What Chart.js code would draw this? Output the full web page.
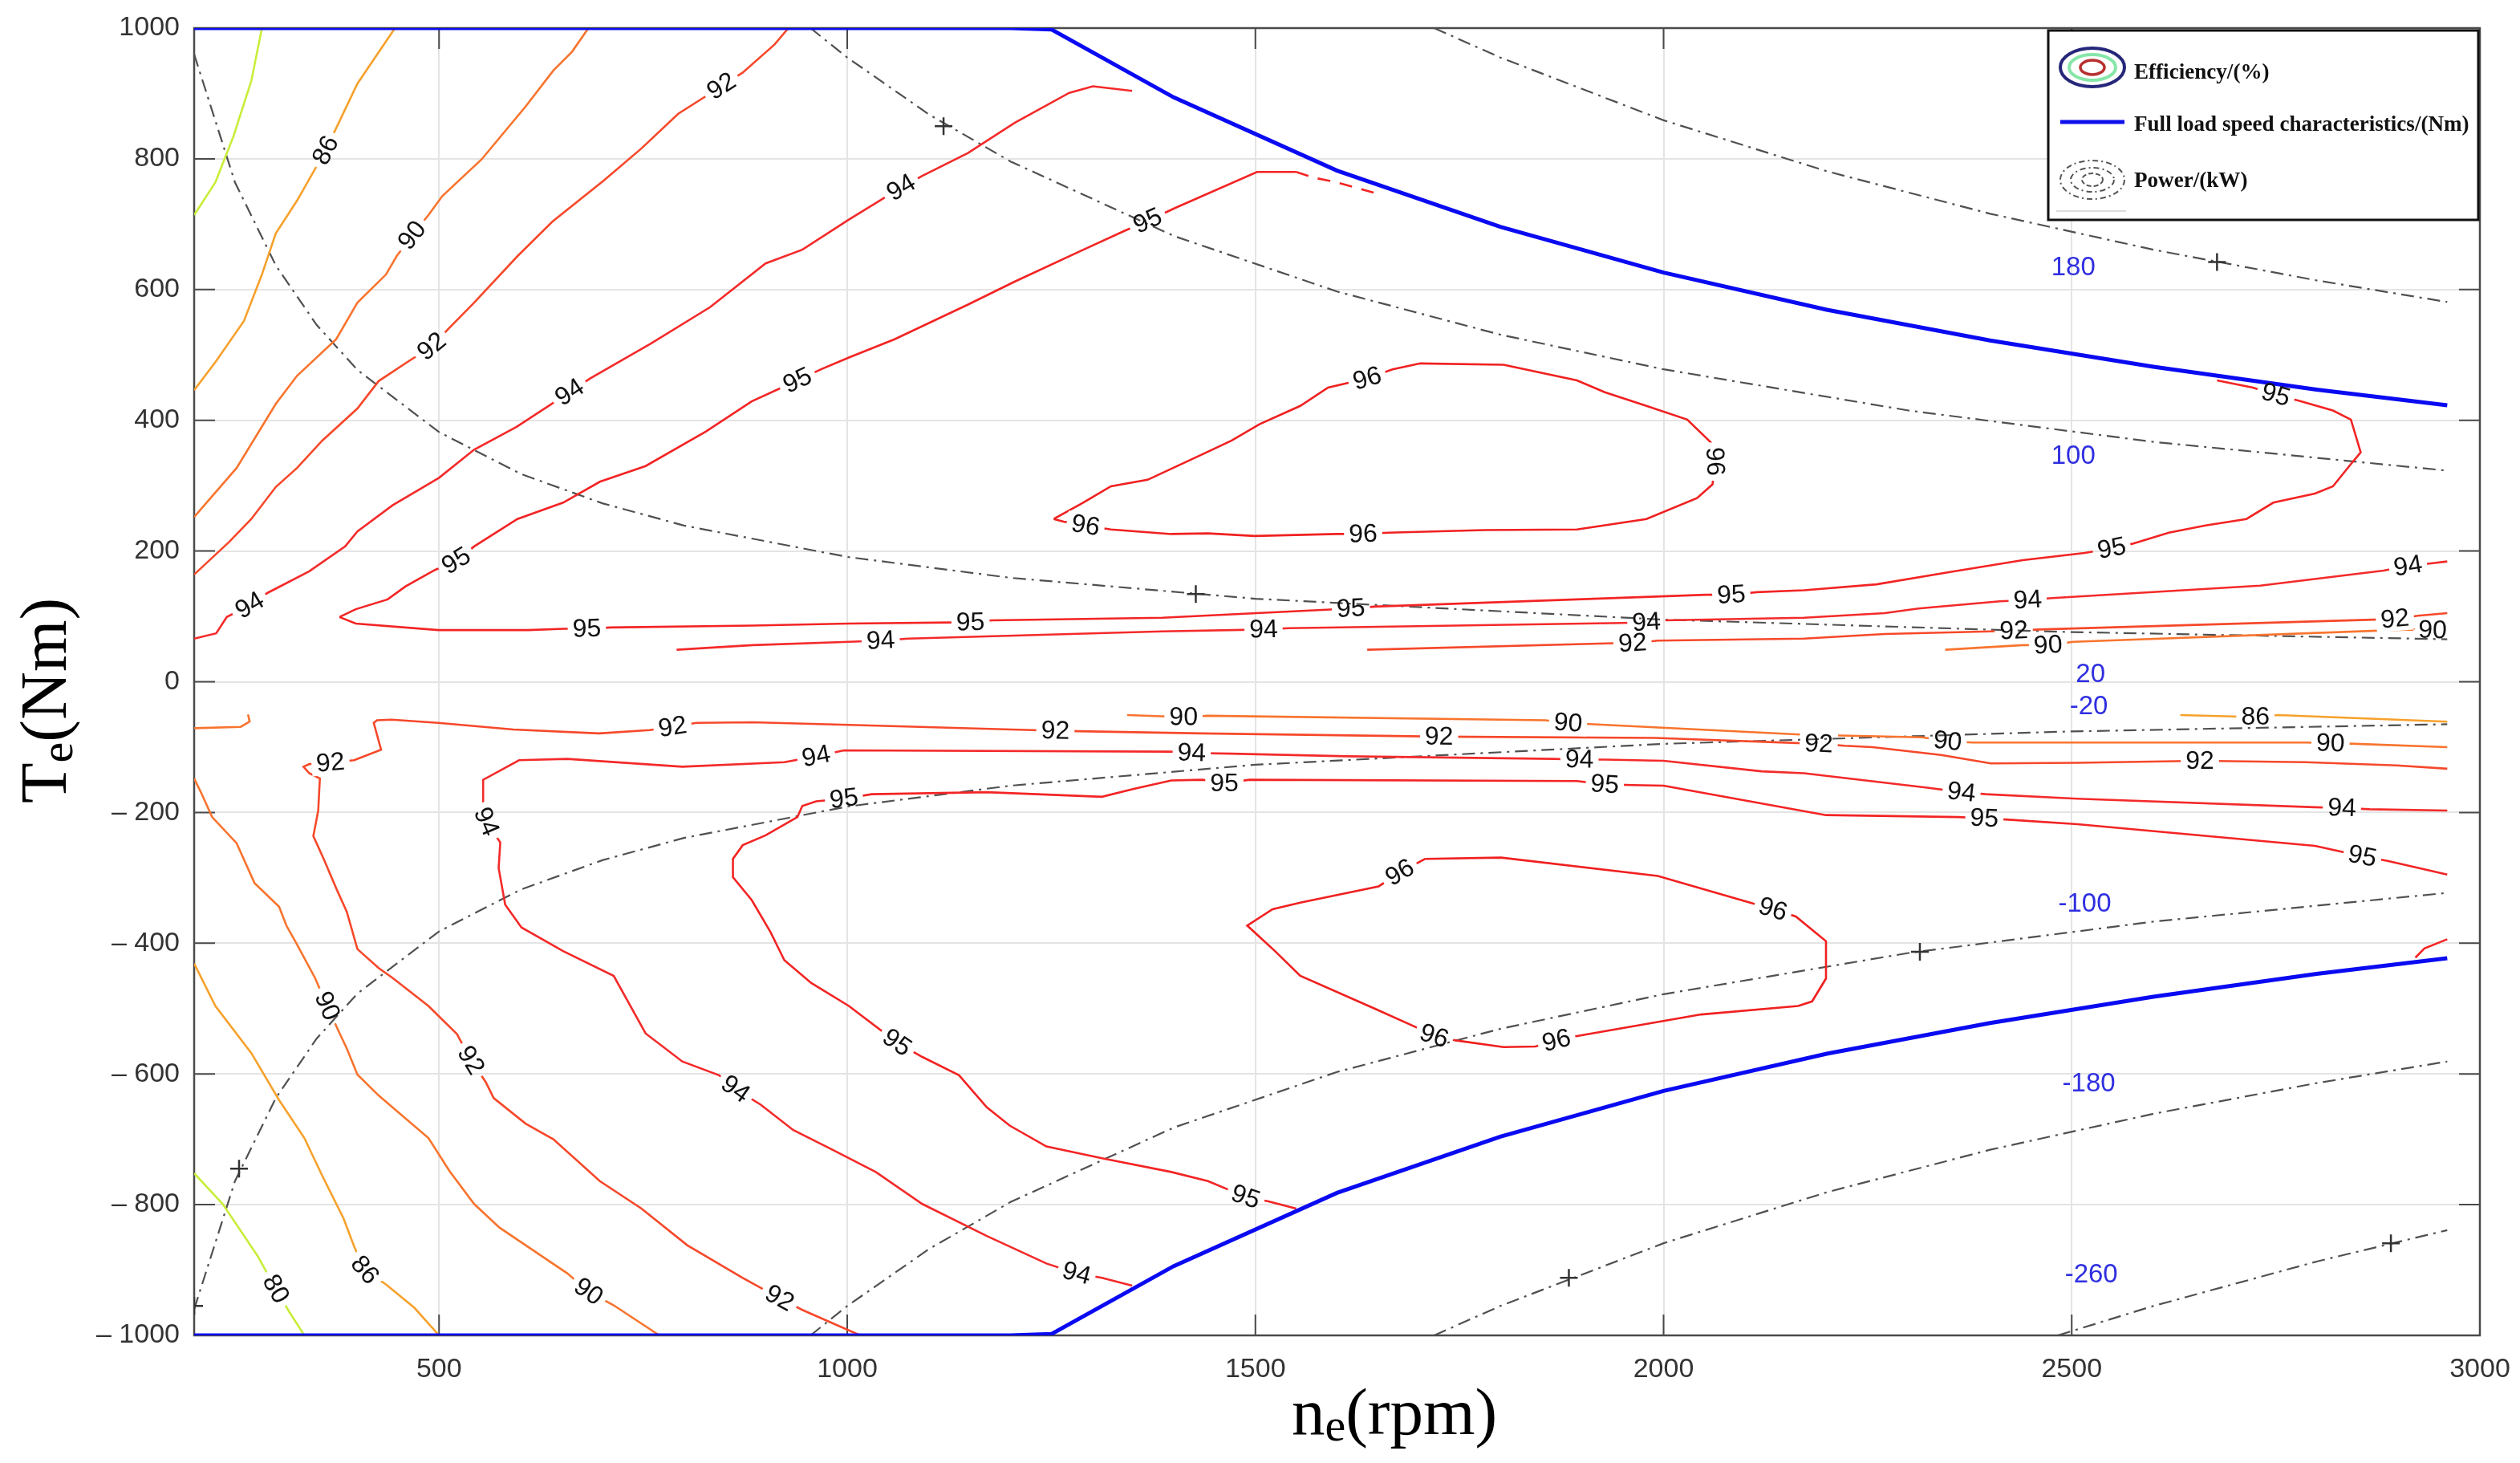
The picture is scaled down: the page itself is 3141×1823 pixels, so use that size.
<!DOCTYPE html>
<html>
<head>
<meta charset="utf-8">
<script src="https://cdn.jsdelivr.net/npm/chart.js@4.4.1/dist/chart.umd.min.js"></script>
<style>
  html, body { margin: 0; padding: 0; background: #fff; }
  canvas { display: block; }
</style>
</head>
<body>
<canvas id="idEffMap" width="3141" height="1823"></canvas>
<script>
// axis ticks
const xTicks = [500, 1000, 1500, 2000, 2500, 3000];
const yTicks = [-1000, -800, -600, -400, -200, 0, 200, 400, 600, 800, 1000];

// efficiency contours, [speed rpm, torque Nm]
const eff80_pos = [[200,714],[226,764],[248,834],[270,919],[283,1000]];
const eff86_pos = [[200,446],[226,489],[261,552],[283,623],[300,686],[326,736],[361,813],[400,915],[446,1000]];
const eff90_pos = [[200,252],[252,327],[300,425],[326,468],[374,524],[400,580],[435,623],[448,651],[467,683],[487,714],[504,743],[552,799],[606,880],[640,935],[663,964],[683,1000]];
const eff92_pos = [[200,164],[243,214],[270,249],[300,298],[326,327],[357,369],[400,418],[426,460],[461,489],[491,513],[513,542],[543,580],[596,651],[639,704],[702,767],[748,816],[793,869],[846,911],[872,932],[911,975],[928,1000]];
const eff94_pos = [[200,66],[227,74],[240,99],[268,117],[290,136],[341,169],[385,207],[400,230],[443,270],[500,312],[543,355],[595,390],[660,443],[685,464],[759,517],[832,573],[900,640],[945,661],[1002,707],[1066,756],[1092,774],[1148,809],[1205,855],[1272,901],[1301,911],[1349,904]];
const eff95_upper = [[378,99],[398,111],[437,126],[459,146],[495,171],[521,185],[543,207],[596,249],[652,274],[697,306],[753,330],[827,383],[883,429],[939,461],[968,478],[1002,496],[1058,524],[1148,577],[1205,612],[1284,658],[1340,690],[1368,705],[1402,725],[1502,780],[1550,780]];
const eff95_tail = [[1550,780],[1572,771],[1600,764],[1623,756],[1651,746]];
const eff95_lower = [[378,99],[398,89],[499,79],[609,79],[653,81],[681,81],[710,83],[884,86],[1002,89],[1151,91],[1177,94],[1386,98],[1617,112],[1646,115],[2052,133],[2083,133],[2114,137],[2172,140],[2261,149],[2351,168],[2440,186],[2516,197],[2549,204],[2574,211],[2619,228],[2664,239],[2714,249],[2747,274],[2798,288],[2820,299],[2840,330],[2854,351],[2842,401],[2820,415],[2778,430],[2750,439],[2722,450],[2678,461]];
const eff94_band = [[791,49],[884,56],[1002,61],[1041,63],[1075,66],[1386,77],[1510,80],[1541,82],[1950,90],[1979,91],[2001,94],[2172,98],[2271,105],[2312,112],[2412,123],[2446,125],[2476,128],[2731,147],[2882,170],[2912,177],[2940,181],[2960,184]];
const eff92_band = [[1637,49],[1939,59],[1962,59],[1993,63],[2172,66],[2271,73],[2401,77],[2429,78],[2460,80],[2870,95],[2896,96],[2924,101],[2960,105]];
const eff90_band = [[2345,49],[2440,56],[2471,56],[2502,61],[2915,80],[2942,79]];
const eff96_pos = [[1253,249],[1289,274],[1323,299],[1368,309],[1435,348],[1471,369],[1505,394],[1555,422],[1589,450],[1637,464],[1668,478],[1702,487],[1804,485],[1894,461],[1928,443],[1979,422],[2029,401],[2058,366],[2063,337],[2060,302],[2041,281],[1979,249],[1894,233],[1781,232],[1663,228],[1632,226],[1600,226],[1499,223],[1442,227],[1397,226],[1323,233],[1292,239],[1265,245],[1253,249]];

const eff80_neg = [[200,-752],[235,-799],[278,-879],[300,-929],[317,-965],[335,-1000]];
const eff86_neg = [[200,-431],[226,-496],[270,-568],[304,-640],[335,-698],[357,-756],[383,-821],[396,-864],[409,-900],[435,-922],[470,-958],[500,-1000]];
const eff90_neg = [[200,-148],[209,-171],[222,-207],[252,-247],[274,-308],[304,-344],[313,-373],[326,-402],[348,-453],[363,-496],[376,-532],[387,-561],[400,-601],[426,-633],[487,-698],[513,-749],[543,-799],[574,-835],[606,-862],[657,-905],[683,-933],[714,-954],[770,-1000]];
const eff90_stub = [[200,-71],[257,-69],[268,-61],[266,-50]];
const eff92_neg = [[1016,-1000],[945,-961],[917,-943],[872,-912],[804,-862],[748,-806],[697,-764],[640,-700],[606,-676],[567,-637],[557,-612],[539,-579],[522,-539],[487,-496],[443,-453],[426,-438],[400,-409],[387,-352],[374,-316],[359,-272],[346,-236],[352,-197],[354,-148],[341,-140],[334,-130],[341,-126],[367,-124],[396,-120],[429,-104],[420,-63],[424,-59],[442,-58],[499,-63],[591,-73],[696,-79],[758,-74],[786,-69],[815,-63],[884,-62],[1002,-66],[1227,-74],[1255,-75],[1435,-79],[1725,-84],[1990,-86],[2190,-95],[2222,-98],[2256,-100],[2340,-112],[2401,-125],[2507,-124],[2657,-121],[2787,-123],[2898,-128],[2960,-133]];
const eff90_band_neg = [[1343,-51],[1412,-54],[1442,-52],[1855,-59],[1883,-63],[1914,-65],[2172,-81],[2317,-85],[2348,-91],[2379,-93],[2787,-93],[2817,-94],[2848,-95],[2960,-100]];
const eff86_band_neg = [[2633,-51],[2725,-54],[2753,-51],[2960,-61]];
const eff94_neg = [[2960,-197],[2865,-195],[2831,-193],[2798,-192],[2507,-179],[2395,-172],[2365,-169],[2323,-162],[2172,-140],[2120,-137],[2000,-121],[1928,-119],[1897,-119],[1866,-118],[1612,-114],[1471,-110],[1422,-109],[1397,-107],[996,-105],[962,-114],[923,-123],[798,-130],[657,-118],[598,-120],[554,-150],[554,-183],[558,-214],[575,-246],[573,-285],[581,-341],[601,-376],[652,-412],[714,-450],[753,-538],[798,-581],[843,-602],[863,-623],[894,-647],[934,-686],[979,-714],[1035,-750],[1092,-799],[1171,-848],[1244,-890],[1281,-905],[1312,-912],[1349,-924]];
const eff95_neg = [[1550,-806],[1516,-795],[1488,-788],[1442,-764],[1397,-750],[1312,-729],[1244,-711],[1199,-679],[1171,-651],[1137,-602],[1092,-574],[1061,-552],[1002,-496],[956,-461],[923,-426],[906,-383],[883,-334],[860,-299],[860,-271],[872,-250],[900,-235],[939,-207],[945,-190],[962,-183],[996,-179],[1030,-172],[1171,-169],[1312,-176],[1351,-164],[1397,-151],[1435,-150],[1462,-155],[1493,-150],[1894,-152],[1928,-157],[1962,-158],[2000,-159],[2199,-204],[2362,-207],[2393,-209],[2423,-211],[2507,-218],[2798,-251],[2856,-267],[2887,-274],[2960,-295]];
const eff95_corner = [[2921,-422],[2932,-408],[2960,-394]];
const eff96_neg = [[1708,-271],[1801,-269],[1993,-297],[2134,-348],[2162,-359],[2199,-397],[2199,-454],[2182,-489],[2165,-496],[2046,-509],[1894,-542],[1869,-549],[1843,-558],[1804,-559],[1747,-549],[1719,-542],[1696,-528],[1646,-500],[1555,-450],[1524,-412],[1490,-373],[1521,-348],[1555,-338],[1651,-313],[1677,-292],[1708,-271]];

// contour labels: [level, rpm, Nm]
const contourLabels = [
  [86,361,813],[90,467,683],[90,2471,56],[90,2942,79],
  [92,491,513],[92,846,911],[92,1962,59],[92,2429,78],[92,2896,96],
  [94,268,117],[94,660,443],[94,1066,756],[94,1041,63],[94,1510,80],[94,1979,91],[94,2446,125],[94,2912,177],
  [95,521,185],[95,939,461],[95,1368,705],[95,681,81],[95,1151,91],[95,1617,112],[95,2083,133],[95,2549,204],[95,2750,439],
  [96,1637,464],[96,2063,337],[96,1632,226],[96,1292,239],
  [80,300,-929],[86,409,-900],[86,2725,-54],
  [90,363,-496],[90,683,-933],[90,1412,-54],[90,1883,-63],[90,2348,-91],[90,2817,-94],
  [92,917,-943],[92,539,-579],[92,367,-124],[92,786,-69],[92,1255,-75],[92,1725,-84],[92,2190,-95],[92,2657,-121],
  [94,2831,-193],[94,2365,-169],[94,1897,-119],[94,1422,-109],[94,962,-114],[94,558,-214],[94,863,-623],[94,1281,-905],
  [95,1488,-788],[95,1061,-552],[95,996,-179],[95,1462,-155],[95,1928,-157],[95,2393,-209],[95,2856,-267],
  [96,2134,-348],[96,1869,-549],[96,1719,-542],[96,1677,-292]
];

// full load speed characteristic
const fullLoadPos = [[200,1000],[1200,1000],[1250,998],[1400,894],[1600,782],[1800,696],[2000,626],[2200,569],[2400,522],[2600,482],[2800,447],[2960,423]];
const fullLoadNeg = [[200,-1000],[1200,-1000],[1250,-998],[1400,-894],[1600,-782],[1800,-696],[2000,-626],[2200,-569],[2400,-522],[2600,-482],[2800,-447],[2960,-423]];

// constant power curves
const power20 = [[200,960],[250,764],[300,637],[350,546],[400,477],[500,382],[600,318],[700,273],[800,239],[1000,191],[1200,159],[1500,127],[2000,95],[2500,76],[2960,65]];
const power100 = [[955,1000],[1000,955],[1100,868],[1200,796],[1400,682],[1600,597],[1800,531],[2000,478],[2300,415],[2600,367],[2960,323]];
const power180 = [[1719,1000],[1800,955],[2000,859],[2200,781],[2400,716],[2600,661],[2800,614],[2960,581]];
const powerM20 = [[200,-960],[250,-764],[300,-637],[350,-546],[400,-477],[500,-382],[600,-318],[700,-273],[800,-239],[1000,-191],[1200,-159],[1500,-127],[2000,-95],[2500,-76],[2960,-65]];
const powerM100 = [[955,-1000],[1000,-955],[1100,-868],[1200,-796],[1400,-682],[1600,-597],[1800,-531],[2000,-478],[2300,-415],[2600,-367],[2960,-323]];
const powerM180 = [[1719,-1000],[1800,-955],[2000,-859],[2200,-781],[2400,-716],[2600,-661],[2800,-614],[2960,-581]];
const powerM260 = [[2483,-1000],[2600,-955],[2800,-887],[2960,-839]];
const powerMarks = [[1118,850],[2678,642],[1427,134],[255,-745],[200,-955],[2314,-413],[1884,-912],[2891,-859]];
const powerLabelText = ['180', '100', '20', '-20', '-100', '-180', '-260'];
const powerLabelRpm = [2502, 2502, 2523, 2521, 2516, 2521, 2524];
const powerLabelNm = [633, 344, 10, -39, -341, -616, -908];

const contours = [
  {level: 80, pts: eff80_pos}, {level: 86, pts: eff86_pos}, {level: 90, pts: eff90_pos},
  {level: 92, pts: eff92_pos}, {level: 94, pts: eff94_pos},
  {level: 95, pts: eff95_upper}, {level: 95, pts: eff95_tail, dash: [16, 12]}, {level: 95, pts: eff95_lower},
  {level: 94, pts: eff94_band}, {level: 92, pts: eff92_band}, {level: 90, pts: eff90_band},
  {level: 96, pts: eff96_pos},
  {level: 80, pts: eff80_neg}, {level: 86, pts: eff86_neg}, {level: 90, pts: eff90_neg}, {level: 90, pts: eff90_stub},
  {level: 92, pts: eff92_neg}, {level: 90, pts: eff90_band_neg}, {level: 86, pts: eff86_band_neg},
  {level: 94, pts: eff94_neg}, {level: 95, pts: eff95_neg}, {level: 95, pts: eff95_corner}, {level: 96, pts: eff96_neg}
];
const powerCurves = [power20, power100, power180, powerM20, powerM100, powerM180, powerM260];

const levelColors = {80: '#c8ee3a', 86: '#f6a12c', 90: '#f8742e', 92: '#f6482a', 94: '#f42a2a', 95: '#f32424', 96: '#f02020'};
const labelFont = '32px "Liberation Sans", Arial, sans-serif';
const tickFont = {family: '"Liberation Sans", Arial, sans-serif', size: 34};

const toXY = pts => pts.map(p => ({x: p[0], y: p[1]}));

var datasets = [];
datasets.push({label: 'full load +', data: toXY(fullLoadPos), borderColor: '#0a0af2', borderWidth: 5});
datasets.push({label: 'full load -', data: toXY(fullLoadNeg), borderColor: '#0a0af2', borderWidth: 5});
datasets.push({label: 'power marks', data: toXY(powerMarks), showLine: false, pointStyle: 'cross',
               pointRadius: 11, borderColor: '#333', borderWidth: 2.5});
contours.forEach(c => {
  datasets.push({label: 'eff ' + c.level, isContour: true, data: toXY(c.pts),
                 borderColor: levelColors[c.level], borderWidth: 2.6, borderDash: c.dash || []});
});
powerCurves.forEach((p, i) => {
  datasets.push({label: 'power ' + i, data: toXY(p), borderColor: '#505050', borderWidth: 2.2,
                 borderDash: [16, 7, 3, 7]});
});
datasets.forEach(d => {
  if (d.showLine === undefined) d.showLine = true;
  if (d.pointRadius === undefined) d.pointRadius = 0;
  d.fill = false;
  d.tension = 0;
});

// direction of the contour at a label, in pixels
function labelAngle(chart, level, px, py) {
  const xs = chart.scales.x, ys = chart.scales.y;
  let best = Infinity, ang = 0;
  contours.forEach(c => {
    if (c.level !== level) return;
    const pp = c.pts.map(p => [xs.getPixelForValue(p[0]), ys.getPixelForValue(p[1])]);
    for (let i = 0; i < pp.length - 1; i++) {
      const dx = pp[i+1][0] - pp[i][0], dy = pp[i+1][1] - pp[i][1];
      const L = dx * dx + dy * dy || 1;
      let t = ((px - pp[i][0]) * dx + (py - pp[i][1]) * dy) / L;
      t = Math.max(0, Math.min(1, t));
      const qx = pp[i][0] + t * dx, qy = pp[i][1] + t * dy;
      const d = (px - qx) ** 2 + (py - qy) ** 2;
      if (d < best - 0.01) {
        best = d;
        const a = t >= 0.5 ? i : Math.max(i - 1, 0);
        const b = t >= 0.5 ? Math.min(i + 2, pp.length - 1) : i + 1;
        ang = Math.atan2(pp[b][1] - pp[a][1], pp[b][0] - pp[a][0]);
      }
    }
  });
  if (ang > Math.PI / 2) ang -= Math.PI;
  if (ang <= -Math.PI / 2) ang += Math.PI;
  return ang;
}

const mapPlugin = {
  id: 'mapPlugin',
  beforeDatasetsDraw(chart) {
    const ctx = chart.ctx, a = chart.chartArea;
    const xs = chart.scales.x, ys = chart.scales.y;
    ctx.font = labelFont;
    chart.$labels = contourLabels.map(l => {
      const px = xs.getPixelForValue(l[1]), py = ys.getPixelForValue(l[2]);
      const text = String(l[0]);
      return {px, py, text, ang: labelAngle(chart, l[0], px, py), w: ctx.measureText(text).width + 12, h: 30};
    });
    // axes box and inward ticks
    ctx.save();
    ctx.strokeStyle = '#4a4a4a';
    ctx.lineWidth = 2.5;
    ctx.strokeRect(a.left, a.top, a.right - a.left, a.bottom - a.top);
    ctx.lineWidth = 2;
    ctx.beginPath();
    xTicks.forEach(v => {
      const x = xs.getPixelForValue(v);
      ctx.moveTo(x, a.bottom); ctx.lineTo(x, a.bottom - 26);
      ctx.moveTo(x, a.top); ctx.lineTo(x, a.top + 26);
    });
    yTicks.forEach(v => {
      const y = ys.getPixelForValue(v);
      ctx.moveTo(a.left, y); ctx.lineTo(a.left + 26, y);
      ctx.moveTo(a.right, y); ctx.lineTo(a.right - 26, y);
    });
    ctx.stroke();
    ctx.restore();
  },
  beforeDatasetDraw(chart, args) {
    const ds = chart.data.datasets[args.index];
    if (!ds.isContour) return;
    const ctx = chart.ctx;
    ctx.save();
    ctx.beginPath();
    ctx.rect(0, 0, chart.width, chart.height);
    (chart.$labels || []).forEach(l => {
      const c = Math.cos(l.ang), s = Math.sin(l.ang);
      const corners = [[-l.w / 2, -l.h / 2], [l.w / 2, -l.h / 2], [l.w / 2, l.h / 2], [-l.w / 2, l.h / 2]];
      corners.forEach((p, k) => {
        const x = l.px + p[0] * c - p[1] * s, y = l.py + p[0] * s + p[1] * c;
        if (k === 0) ctx.moveTo(x, y); else ctx.lineTo(x, y);
      });
      ctx.closePath();
    });
    ctx.clip('evenodd');
  },
  afterDatasetDraw(chart, args) {
    const ds = chart.data.datasets[args.index];
    if (ds.isContour) chart.ctx.restore();
  },
  afterDatasetsDraw(chart) {
    const ctx = chart.ctx;
    const xs = chart.scales.x, ys = chart.scales.y;
    ctx.save();
    ctx.font = labelFont;
    ctx.fillStyle = '#111';
    ctx.textAlign = 'center';
    ctx.textBaseline = 'middle';
    chart.$labels.forEach(l => {
      ctx.save();
      ctx.translate(l.px, l.py);
      ctx.rotate(l.ang);
      ctx.fillText(l.text, 0, 1);
      ctx.restore();
    });
    ctx.font = '33px "Liberation Sans", Arial, sans-serif';
    ctx.fillStyle = '#2f2fe0';
    powerLabelText.forEach((t, i) => {
      ctx.fillText(t, xs.getPixelForValue(powerLabelRpm[i]), ys.getPixelForValue(powerLabelNm[i]));
    });
    ctx.restore();
  },
  afterDraw(chart) {
    const ctx = chart.ctx;
    ctx.save();
    // axis titles with subscript
    function subTitle(main, sub, rest, cx, cy, rot) {
      ctx.save();
      ctx.translate(cx, cy);
      ctx.rotate(rot);
      ctx.fillStyle = '#000';
      ctx.textBaseline = 'alphabetic';
      ctx.textAlign = 'left';
      const big = '83px "Liberation Serif", "Times New Roman", serif';
      const small = '58px "Liberation Serif", "Times New Roman", serif';
      ctx.font = big; const w1 = ctx.measureText(main).width; const w3 = ctx.measureText(rest).width;
      ctx.font = small; const w2 = ctx.measureText(sub).width;
      let x = -(w1 + w2 + w3) / 2;
      ctx.font = big; ctx.fillText(main, x, 0);
      ctx.font = small; ctx.fillText(sub, x + w1, 8);
      ctx.font = big; ctx.fillText(rest, x + w1 + w2, 0);
      ctx.restore();
    }
    subTitle('T', 'e', '(Nm)', 82, 873, -Math.PI / 2);
    subTitle('n', 'e', '(rpm)', 1738, 1787, 0);

    // legend box
    const L = 2553, T = 38, R = 3089, B = 274;
    ctx.fillStyle = '#fff';
    ctx.fillRect(L, T, R - L, B - T);
    ctx.strokeStyle = '#111';
    ctx.lineWidth = 3;
    ctx.strokeRect(L, T, R - L, B - T);

    function ell(cx, cy, rx, ry, color, lw, dash) {
      ctx.save();
      ctx.beginPath();
      ctx.ellipse(cx, cy, rx, ry, 0, 0, Math.PI * 2);
      ctx.strokeStyle = color;
      ctx.lineWidth = lw;
      ctx.setLineDash(dash || []);
      ctx.stroke();
      ctx.restore();
    }
    ell(2608, 84, 40, 24, '#26267a', 4);
    ell(2608, 84, 29, 16, '#86e6a8', 4);
    ell(2608, 84, 15, 9, '#b83030', 3.5);
    ctx.strokeStyle = '#1010ee';
    ctx.lineWidth = 5;
    ctx.beginPath(); ctx.moveTo(2568, 152); ctx.lineTo(2648, 152); ctx.stroke();
    ell(2608, 224, 40, 24, '#555', 2, [7, 4, 2, 4]);
    ell(2608, 224, 27, 15, '#555', 2, [7, 4, 2, 4]);
    ell(2608, 224, 13, 8, '#555', 2, [6, 3]);
    ctx.strokeStyle = '#cfcfcf';
    ctx.lineWidth = 1.5;
    ctx.beginPath(); ctx.moveTo(2563, 263); ctx.lineTo(2650, 263); ctx.stroke();

    ctx.fillStyle = '#111';
    ctx.textAlign = 'left';
    ctx.textBaseline = 'middle';
    let fs = 30;
    ctx.font = 'bold ' + fs + 'px "Liberation Serif", "Times New Roman", serif';
    const longText = 'Full load speed characteristics/(Nm)';
    fs = fs * 418 / ctx.measureText(longText).width;
    ctx.font = 'bold ' + fs.toFixed(1) + 'px "Liberation Serif", "Times New Roman", serif';
    ctx.fillText('Efficiency/(%)', 2660, 91);
    ctx.fillText(longText, 2660, 156);
    ctx.fillText('Power/(kW)', 2660, 226);
    ctx.restore();
  }
};

var ctxMap = document.getElementById('idEffMap').getContext('2d');
var effChart = new Chart(ctxMap, {
  type: 'scatter',
  data: {datasets: datasets},
  options: {
    responsive: false,
    animation: false,
    devicePixelRatio: 1,
    layout: {padding: {top: 35, right: 50, left: 0, bottom: 0}},
    plugins: {legend: {display: false}, tooltip: {enabled: false}},
    scales: {
      x: {
        type: 'linear', min: 200, max: 3000,
        afterBuildTicks: s => { s.ticks = xTicks.map(v => ({value: v})); },
        afterFit: s => { s.height = 159; s.paddingLeft = 0; s.paddingRight = 0; },
        grid: {color: '#e4e4e4', lineWidth: 2, drawTicks: false},
        border: {display: false},
        ticks: {font: tickFont, color: '#333', padding: 22, maxRotation: 0, autoSkip: false,
                callback: v => String(v)}
      },
      y: {
        type: 'linear', min: -1000, max: 1000,
        afterBuildTicks: s => { s.ticks = yTicks.map(v => ({value: v})); },
        afterFit: s => { s.width = 242; s.paddingTop = 0; s.paddingBottom = 0; },
        grid: {color: '#e4e4e4', lineWidth: 2, drawTicks: false},
        border: {display: false},
        ticks: {
          font: tickFont, color: '#333', padding: 18, autoSkip: false,
          callback: v => v < 0 ? '\u2013 ' + Math.abs(v) : String(v)
        }
      }
    }
  },
  plugins: [mapPlugin]
});
</script>
</body>
</html>
